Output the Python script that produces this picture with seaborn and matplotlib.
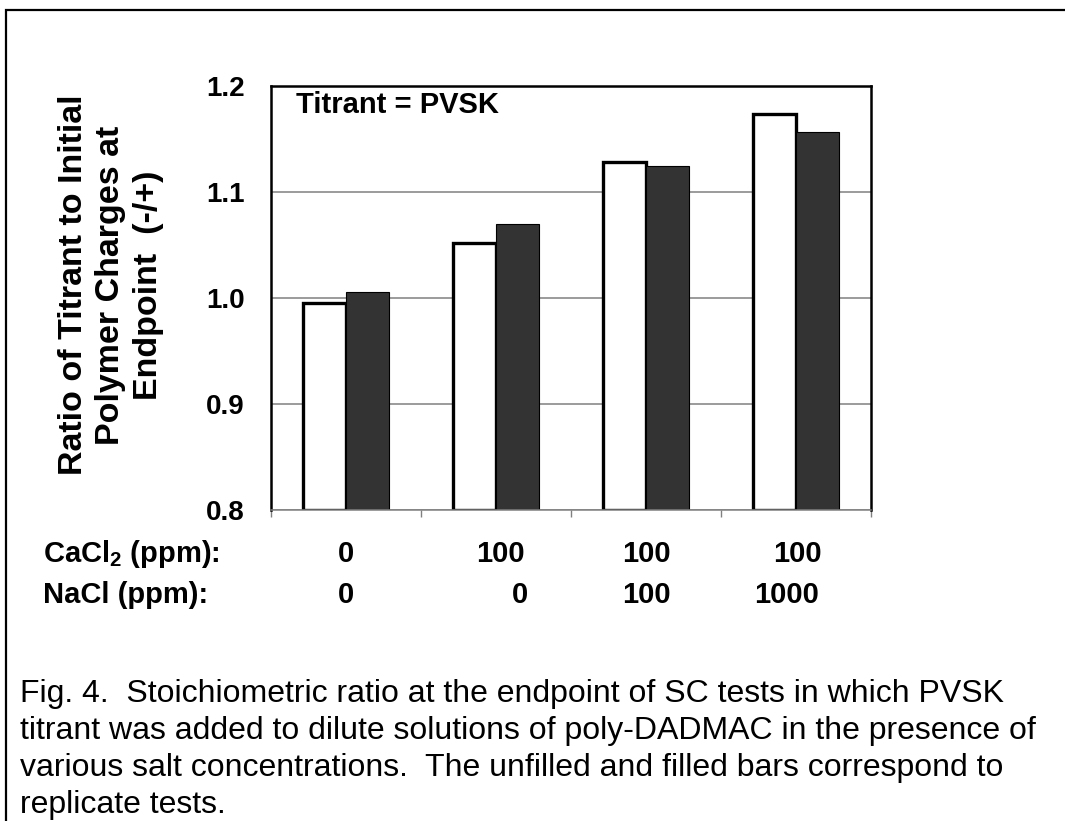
import matplotlib
matplotlib.use("Agg")
import matplotlib.pyplot as plt
import matplotlib.patches as mpatches
import pandas as pd
import seaborn as sns

# salt conditions (one group per condition)
cacl2_ppm = ["0", "100", "100", "100"]
nacl_ppm = ["0", "0", "100", "1000"]
# stoichiometric ratio at endpoint, two replicate tests
replicate_1 = [0.995, 1.052, 1.128, 1.174]
replicate_2 = [1.006, 1.070, 1.125, 1.157]
y_ticks = [0.8, 0.9, 1.0, 1.1, 1.2]

conditions = [f"{c}/{n}" for c, n in zip(cacl2_ppm, nacl_ppm)]
df = pd.DataFrame({
    "condition": conditions * 2,
    "ratio": replicate_1 + replicate_2,
    "replicate": ["unfilled"] * 4 + ["filled"] * 4,
})

sns.set_theme(style="white")
plt.rcParams["font.family"] = ["Liberation Sans", "DejaVu Sans"]
plt.rcParams["mathtext.fontset"] = "custom"
plt.rcParams["mathtext.rm"] = "Liberation Sans:bold"
plt.rcParams["text.color"] = "black"
plt.rcParams["ytick.color"] = "black"
plt.rcParams["xtick.color"] = "black"

fig = plt.figure(figsize=(10.65, 8.21), dpi=100)
ax = fig.add_axes([271 / 1065, 311 / 821, 600 / 1065, 424 / 821])

sns.barplot(data=df, x="condition", y="ratio", hue="replicate",
            palette=["white", "#333333"], saturation=1, width=0.57,
            edgecolor="black", legend=False, ax=ax)

y_min, y_max = y_ticks[0], y_ticks[-1]
for container, lw in zip(ax.containers, [2.4, 0.8]):
    for bar in container:
        top = bar.get_y() + bar.get_height()
        bar.set_y(y_min)
        bar.set_height(top - y_min)
        bar.set_linewidth(lw)

ax.set_ylim(y_min, y_max)
ax.set_xlim(-0.5, len(conditions) - 0.5)
ax.set_yticks(y_ticks)
ax.set_yticklabels([f"{v:.1f}" for v in y_ticks], fontsize=20, fontweight="bold")
ax.set_xticks([i - 0.5 for i in range(len(conditions) + 1)])
ax.set_xticklabels([])
ax.tick_params(axis="y", length=0, pad=19)
ax.tick_params(axis="x", direction="out", length=5, width=1, color="#808080", bottom=True)
ax.set_xlabel("")
ax.set_ylabel("")

ax.yaxis.grid(True, color="#808080", linewidth=1.1)
ax.set_axisbelow(True)
for side in ["left", "top", "right"]:
    ax.spines[side].set_color("black")
    ax.spines[side].set_linewidth(1.8)
ax.spines["bottom"].set_color("#808080")
ax.spines["bottom"].set_linewidth(1.1)

ax.text(0.042, 0.936, "Titrant = PVSK", transform=ax.transAxes,
        fontsize=21, fontweight="bold", va="baseline", ha="left")

fig.text(111 / 1065, 1 - 285 / 821,
         "Ratio of Titrant to Initial\nPolymer Charges at\nEndpoint  (-/+)",
         rotation=90, ha="center", va="center", multialignment="center",
         fontsize=24.5, fontweight="bold", linespacing=1.25)

# condition labels under the groups
row_y = [1 - 562 / 821, 1 - 603 / 821]
fig.text(43 / 1065, row_y[0], r"CaCl$_{\mathrm{2}}$ (ppm):", fontsize=21,
         fontweight="bold", va="baseline", ha="left")
fig.text(43 / 1065, row_y[1], "NaCl (ppm):", fontsize=21,
         fontweight="bold", va="baseline", ha="left")
row1_shift = [0.0, 0.03, 0.0, 0.01]
row2_shift = [0.0, 0.16, 0.0, -0.06]
trans = ax.get_xaxis_transform()
for i, (c, n) in enumerate(zip(cacl2_ppm, nacl_ppm)):
    ax.text(i + row1_shift[i], (row_y[0] * 821 - 311) / 424, c, transform=trans,
            fontsize=21, fontweight="bold", ha="center", va="baseline")
    ax.text(i + row2_shift[i], (row_y[1] * 821 - 311) / 424, n, transform=trans,
            fontsize=21, fontweight="bold", ha="center", va="baseline")

caption = ("Fig. 4.  Stoichiometric ratio at the endpoint of SC tests in which PVSK\n"
           "titrant was added to dilute solutions of poly-DADMAC in the presence of\n"
           "various salt concentrations.  The unfilled and filled bars correspond to\n"
           "replicate tests.")
fig.text(20 / 1065, 1 - 679 / 821, caption, fontsize=23, ha="left", va="top",
         linespacing=1.3)

# outer frame (only its top and left edges fall inside the picture)
fig.patches.append(mpatches.Rectangle((6 / 1065, -0.2), 1.5, 0.2 + (821 - 10) / 821,
                                      transform=fig.transFigure, fill=False,
                                      edgecolor="black", linewidth=1.6))

fig.savefig("out.png", dpi=100)
